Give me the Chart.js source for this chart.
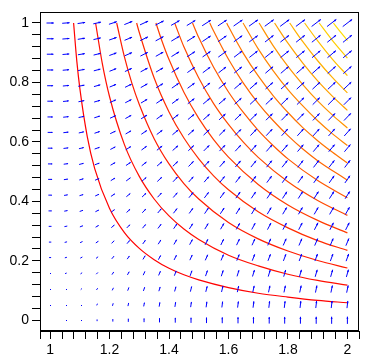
<!DOCTYPE html>
<html>
<head>
<meta charset="utf-8">
<script src="https://cdn.jsdelivr.net/npm/chart.js@4.4.1/dist/chart.umd.min.js"></script>
<style>
  html, body { margin: 0; padding: 0; background: #fff; }
  #wrap { width: 379px; height: 361px; }
</style>
</head>
<body>
<div id="wrap"><canvas id="plot" width="379" height="361"></canvas></div>
<script>
// grid where the field arrows sit
const gridX = [1, 1.053, 1.105, 1.158, 1.211, 1.263, 1.316, 1.368, 1.421, 1.474,
               1.526, 1.579, 1.632, 1.684, 1.737, 1.789, 1.842, 1.895, 1.947, 2];
const gridY = [0, 0.053, 0.105, 0.158, 0.211, 0.263, 0.316, 0.368, 0.421, 0.474,
               0.526, 0.579, 0.632, 0.684, 0.737, 0.789, 0.842, 0.895, 0.947, 1];

// horizontal strength per row, its growth per column, vertical strength per column
const fieldURow = [0, 0.09, 0.16, 0.22, 0.28, 0.33, 0.39, 0.44, 0.49, 0.54,
                   0.59, 0.64, 0.68, 0.73, 0.77, 0.82, 0.86, 0.91, 0.95, 1.0];
const fieldUCol = [1, 1.02, 1.04, 1.06, 1.08, 1.1, 1.12, 1.14, 1.16, 1.18,
                   1.2, 1.21, 1.22, 1.23, 1.24, 1.25, 1.26, 1.27, 1.28, 1.3];
const fieldVCol = [0, 0.08, 0.16, 0.24, 0.36, 0.44, 0.52, 0.59, 0.66, 0.72,
                   0.77, 0.81, 0.85, 0.88, 0.91, 0.93, 0.95, 0.97, 0.98, 1.0];

// contour curves, lowest level first
const contourLines = [
  [[1.079,1],[1.09,0.87],[1.1,0.78],[1.125,0.618],[1.15,0.51],[1.2,0.376],[1.25,0.295],[1.3,0.242],[1.35,0.204],[1.4,0.175],[1.45,0.153],[1.5,0.136],[1.6,0.11],[1.7,0.091],[1.8,0.078],[1.9,0.067],[2,0.059]],
  [[1.153,1],[1.175,0.867],[1.2,0.752],[1.25,0.591],[1.3,0.484],[1.35,0.408],[1.4,0.351],[1.45,0.307],[1.5,0.272],[1.6,0.219],[1.7,0.183],[1.8,0.155],[1.9,0.134],[2,0.118]],
  [[1.224,1],[1.25,0.886],[1.275,0.798],[1.3,0.726],[1.35,0.611],[1.4,0.526],[1.45,0.46],[1.5,0.408],[1.6,0.329],[1.7,0.274],[1.8,0.233],[1.9,0.201],[2,0.176]],
  [[1.291,1],[1.3,0.968],[1.35,0.815],[1.4,0.701],[1.45,0.613],[1.5,0.543],[1.55,0.486],[1.6,0.439],[1.7,0.365],[1.8,0.311],[1.9,0.268],[2,0.235]],
  [[1.356,1],[1.375,0.943],[1.4,0.877],[1.45,0.767],[1.5,0.679],[1.55,0.608],[1.6,0.549],[1.7,0.457],[1.8,0.388],[1.9,0.336],[2,0.294]],
  [[1.419,1],[1.45,0.92],[1.5,0.815],[1.55,0.729],[1.6,0.659],[1.65,0.599],[1.7,0.548],[1.8,0.466],[1.9,0.403],[2,0.353]],
  [[1.479,1],[1.5,0.951],[1.55,0.851],[1.6,0.768],[1.65,0.699],[1.7,0.639],[1.75,0.588],[1.8,0.543],[1.9,0.47],[2,0.412]],
  [[1.537,1],[1.55,0.973],[1.6,0.878],[1.65,0.798],[1.7,0.73],[1.75,0.672],[1.8,0.621],[1.85,0.576],[1.9,0.537],[2,0.471]],
  [[1.594,1],[1.6,0.988],[1.65,0.898],[1.7,0.822],[1.75,0.756],[1.8,0.699],[1.85,0.648],[1.9,0.604],[1.95,0.565],[2,0.529]],
  [[1.649,1],[1.7,0.913],[1.75,0.84],[1.8,0.776],[1.85,0.721],[1.9,0.671],[1.95,0.627],[2,0.588]],
  [[1.703,1],[1.75,0.924],[1.8,0.854],[1.85,0.793],[1.9,0.738],[1.95,0.69],[2,0.647]],
  [[1.755,1],[1.8,0.932],[1.85,0.865],[1.9,0.805],[1.95,0.753],[2,0.706]],
  [[1.806,1],[1.85,0.937],[1.9,0.873],[1.95,0.816],[2,0.765]],
  [[1.856,1],[1.9,0.94],[1.95,0.878],[2,0.823]],
  [[1.905,1],[1.95,0.941],[2,0.882]],
  [[1.953,1],[1.975,0.972],[2,0.941]]
];
const contourColors = ['#ff0000', '#ff0f00', '#ff1d00', '#ff2c00', '#ff3b00', '#ff4900',
                       '#ff5800', '#ff6700', '#ff7500', '#ff8400', '#ff9300', '#ffa100',
                       '#ffb000', '#ffbf00', '#ffcd00', '#ffdc00'];

// axis ticks (every 0.04, plus the box edges on x) and the labelled ones
const xTickValues = [0.966, 1, 1.04, 1.08, 1.12, 1.16, 1.2, 1.24, 1.28, 1.32, 1.36, 1.4,
                     1.44, 1.48, 1.52, 1.56, 1.6, 1.64, 1.68, 1.72, 1.76, 1.8, 1.84, 1.88,
                     1.92, 1.96, 2, 2.039];
const yTickValues = [0, 0.04, 0.08, 0.12, 0.16, 0.2, 0.24, 0.28, 0.32, 0.36, 0.4, 0.44,
                     0.48, 0.52, 0.56, 0.6, 0.64, 0.68, 0.72, 0.76, 0.8, 0.84, 0.88, 0.92,
                     0.96, 1];
const xLabelValues = [1, 1.2, 1.4, 1.6, 1.8, 2];
const yLabelValues = [0, 0.2, 0.4, 0.6, 0.8, 1];

const ARROW_PX = 7.2;
const FONT = { family: 'Liberation Sans', size: 14 };

function labelFor(list) {
  return function(value) {
    const hit = list.find(v => Math.abs(v - value) < 1e-6);
    return hit === undefined ? '' : String(hit);
  };
}

// field points: one per grid cell, arrow drawn by the plugin below
const fieldPoints = [];
gridY.forEach((y, j) => {
  gridX.forEach((x, i) => {
    fieldPoints.push({ x: x, y: y, u: fieldURow[j] * fieldUCol[i], v: fieldVCol[i] });
  });
});

function drawArrow(ctx, cx, cy, dx, dy) {
  const len = Math.hypot(dx, dy);
  if (len < 0.3) return;
  if (len < 1.6) {
    ctx.fillRect(Math.round(cx), Math.round(cy), 1, 1);
    return;
  }
  const tx = cx - dx / 2, ty = cy - dy / 2;
  const hx = cx + dx / 2, hy = cy + dy / 2;
  ctx.beginPath();
  ctx.moveTo(tx, ty);
  ctx.lineTo(hx, hy);
  ctx.stroke();
  if (len < 3) return;
  const h = Math.min(2.4, len * 0.3);
  const ux = dx / len, uy = dy / len;
  ctx.beginPath();
  ctx.moveTo(hx + 0.3 * ux, hy + 0.3 * uy);
  ctx.lineTo(hx - h * ux - h * 0.45 * uy, hy - h * uy + h * 0.45 * ux);
  ctx.lineTo(hx - h * ux + h * 0.45 * uy, hy - h * uy - h * 0.45 * ux);
  ctx.closePath();
  ctx.fill();
}

const fieldPlugin = {
  id: 'fieldArrows',
  afterDatasetsDraw(chart) {
    const idx = chart.data.datasets.length - 1;
    const meta = chart.getDatasetMeta(idx);
    const ctx = chart.ctx;
    ctx.save();
    ctx.strokeStyle = '#0000ff';
    ctx.fillStyle = '#0000ff';
    ctx.lineWidth = 1;
    meta.data.forEach((pt, k) => {
      const p = fieldPoints[k];
      drawArrow(ctx, pt.x, pt.y, p.u * ARROW_PX, -p.v * ARROW_PX);
    });
    ctx.restore();
  },
  afterDraw(chart) {
    const a = chart.chartArea;
    const ctx = chart.ctx;
    ctx.save();
    ctx.strokeStyle = '#000';
    ctx.lineWidth = 1;
    ctx.strokeRect(Math.round(a.left) + 0.5, Math.round(a.top) + 0.5,
                   Math.round(a.right - a.left) - 1, Math.round(a.bottom - a.top) - 1);
    ctx.restore();
  }
};

const datasets = contourLines.map((line, k) => ({
  type: 'line',
  data: line.map(p => ({ x: p[0], y: p[1] })),
  borderColor: contourColors[k],
  borderWidth: 1.2,
  pointRadius: 0,
  fill: false,
  cubicInterpolationMode: 'monotone'
}));
datasets.push({
  type: 'scatter',
  data: fieldPoints.map(p => ({ x: p.x, y: p.y })),
  pointRadius: 0,
  pointHoverRadius: 0
});

new Chart(document.getElementById('plot'), {
  type: 'scatter',
  data: { datasets: datasets },
  options: {
    responsive: false,
    animation: false,
    devicePixelRatio: 1,
    events: [],
    layout: { padding: { top: 12, right: 20, left: 0, bottom: 0 } },
    plugins: { legend: { display: false }, tooltip: { enabled: false } },
    scales: {
      x: {
        type: 'linear',
        min: 0.966,
        max: 2.039,
        afterBuildTicks: s => { s.ticks = xTickValues.map(v => ({ value: v })); },
        afterFit: s => { s.height = 30; },
        ticks: { callback: labelFor(xLabelValues), autoSkip: false, maxRotation: 0,
                 color: '#000', font: FONT, padding: 3 },
        grid: { drawOnChartArea: false, drawTicks: true, tickLength: 8, color: '#000' },
        border: { display: true, color: '#000' }
      },
      y: {
        type: 'linear',
        min: -0.036,
        max: 1.037,
        afterBuildTicks: s => { s.ticks = yTickValues.map(v => ({ value: v })); },
        afterFit: s => { s.width = 40; },
        ticks: { callback: labelFor(yLabelValues), autoSkip: false,
                 color: '#000', font: FONT, padding: 3 },
        grid: { drawOnChartArea: false, drawTicks: true, tickLength: 8, color: '#000' },
        border: { display: true, color: '#000' }
      }
    }
  },
  plugins: [fieldPlugin]
});
</script>
</body>
</html>
